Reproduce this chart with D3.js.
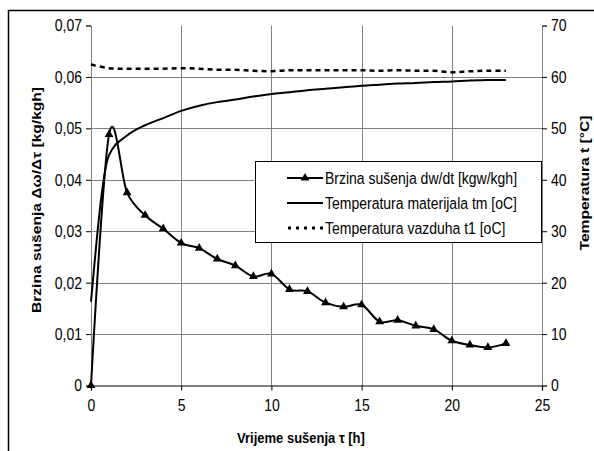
<!DOCTYPE html>
<html><head><meta charset="utf-8">
<script src="https://cdn.jsdelivr.net/npm/d3@7"></script>
<style>
body{margin:0;background:#fff;}
svg{display:block;font-family:"Liberation Sans",Arial,sans-serif;}
.st{transform-box:fill-box;transform-origin:center;transform:scaleY(1.18);}
</style></head><body>
<svg id="c" width="594" height="451"></svg>
<script>
const hours = [0,1,2,3,4,5,6,7,8,9,10,11,12,13,14,15,16,17,18,19,20,21,22,23];
const dryingRate = [0,0.0488,0.0375,0.0331,0.0305,0.0277,0.0267,0.0246,0.0233,0.0212,0.0217,0.0187,0.0183,0.0161,0.0153,0.0157,0.0124,0.0127,0.0116,0.0109,0.0087,0.0079,0.0074,0.0082];
const tempMaterial = [16.3,44.8,48.6,50.6,52.0,53.4,54.4,55.1,55.6,56.2,56.7,57.0,57.4,57.7,58.0,58.3,58.5,58.7,58.8,59.0,59.1,59.3,59.4,59.4];
const tempAir = [62.4,61.7,61.6,61.6,61.6,61.7,61.6,61.4,61.4,61.2,61.1,61.3,61.3,61.3,61.3,61.3,61.2,61.3,61.2,61.2,60.9,61.1,61.2,61.2];
const xTicks = [0,5,10,15,20,25];
const yLeftTicks = [0,0.01,0.02,0.03,0.04,0.05,0.06,0.07];
const yRightTicks = [0,10,20,30,40,50,60,70];
const legendLabels = ["Brzina sušenja dw/dt [kgw/kgh]","Temperatura materijala tm [oC]","Temperatura vazduha t1 [oC]"];

const svg = d3.select("#c");
const L=91, R=542, T=25.5, B=385.5;
const x = d3.scaleLinear().domain([0,25]).range([L,R]);
const yL = d3.scaleLinear().domain([0,0.07]).range([B,T]);
const yR = d3.scaleLinear().domain([0,70]).range([B,T]);

// outer frame
svg.append("rect").attr("x",8.5).attr("y",10.5).attr("width",600).attr("height",460)
  .attr("fill","none").attr("stroke","#000").attr("stroke-width",1.5);

// grid
const g = svg.append("g");
g.selectAll("line.h").data(yLeftTicks.filter(d=>d>0&&d<0.07)).join("line")
  .attr("x1",L).attr("x2",R).attr("y1",d=>Math.round(yL(d))+0.5).attr("y2",d=>Math.round(yL(d))+0.5)
  .attr("stroke","#808080").attr("stroke-width",1);
g.selectAll("line.v").data(xTicks.filter(d=>d>0&&d<25)).join("line")
  .attr("y1",T).attr("y2",B).attr("x1",d=>Math.round(x(d))+0.5).attr("x2",d=>Math.round(x(d))+0.5)
  .attr("stroke","#808080").attr("stroke-width",1);

const fmtL = d => d===0 ? "0" : d3.format(".2f")(d).replace(".",",");
const axL = svg.append("g").attr("transform",`translate(${L},0)`)
  .call(d3.axisLeft(yL).tickValues(yLeftTicks).tickFormat(fmtL).tickSize(5).tickPadding(4));
const axR = svg.append("g").attr("transform",`translate(${R},0)`)
  .call(d3.axisRight(yR).tickValues(yRightTicks).tickSize(5).tickPadding(4));
const axB = svg.append("g").attr("transform",`translate(0,${B})`)
  .call(d3.axisBottom(x).tickValues(xTicks).tickSize(5).tickPadding(10));
[axL,axR,axB].forEach(a=>{
  a.selectAll("text").attr("font-size",14).attr("fill","#000").attr("class","st")
    .attr("font-family","'Liberation Sans',Arial,sans-serif");
  a.selectAll("line").attr("stroke","#000");
});
axL.select(".domain").attr("stroke","#808080");
axR.select(".domain").attr("stroke","#808080");
axB.select(".domain").attr("stroke","#000").attr("stroke-width",1.2);

// lines
const curve = d3.curveCardinal.tension(0);
const rateLine = d3.line().x((d,i)=>x(hours[i])).y(d=>yL(d)).curve(curve);
const tmLine = d3.line().x((d,i)=>x(hours[i])).y(d=>yR(d)).curve(d3.curveMonotoneX);
const airLine = d3.line().x((d,i)=>x(hours[i])).y(d=>yR(d)).curve(curve);
svg.append("path").attr("d",tmLine(tempMaterial)).attr("fill","none").attr("stroke","#000").attr("stroke-width",2);
svg.append("path").attr("d",airLine(tempAir)).attr("fill","none").attr("stroke","#000").attr("stroke-width",2.5).attr("stroke-dasharray","5,4");
svg.append("path").attr("d",rateLine(dryingRate)).attr("fill","none").attr("stroke","#000").attr("stroke-width",2);
const tri = d3.symbol().type(d3.symbolTriangle).size(34);
svg.selectAll("path.m").data(dryingRate).join("path").attr("class","m")
  .attr("d",tri).attr("transform",(d,i)=>`translate(${x(hours[i])},${yL(d)})`).attr("fill","#000");

// legend
const lg = svg.append("g");
lg.append("rect").attr("x",255.5).attr("y",161.5).attr("width",286).attr("height",81)
  .attr("fill","#fff").attr("stroke","#000").attr("stroke-width",1);
const rowsY=[178,203,228];
legendLabels.forEach((t,i)=>{
  const yy=rowsY[i];
  const ln = lg.append("line").attr("x1",287).attr("x2",323).attr("y1",yy).attr("y2",yy).attr("stroke","#000");
  if(i===0){ ln.attr("stroke-width",2); lg.append("path").attr("d",tri).attr("transform",`translate(305,${yy})`).attr("fill","#000"); }
  if(i===1){ ln.attr("stroke-width",2); }
  if(i===2){ ln.attr("stroke-width",3).attr("stroke-dasharray","3,5").attr("x1",288); }
  lg.append("text").attr("class","st").attr("x",325).attr("y",yy).attr("dy","0.35em").attr("font-size",14).text(t);
});

// axis titles
svg.append("text").attr("transform","translate(36,200) rotate(-90) scale(1.2,1)").attr("text-anchor","middle")
  .attr("font-size",13).attr("font-weight","bold").attr("dy","0.35em")
  .text("Brzina sušenja  Δω/Δτ [kg/kgh]");
svg.append("text").attr("transform","translate(584,183) rotate(-90) scale(1.2,1)").attr("text-anchor","middle")
  .attr("font-size",13).attr("font-weight","bold").attr("dy","0.35em").text("Temperatura t  [°C]");
svg.append("text").attr("class","st").attr("x",301).attr("y",438).attr("dy","0.35em").attr("text-anchor","middle")
  .attr("font-size",13).attr("font-weight","bold").text("Vrijeme sušenja τ [h]");
</script></body></html>
